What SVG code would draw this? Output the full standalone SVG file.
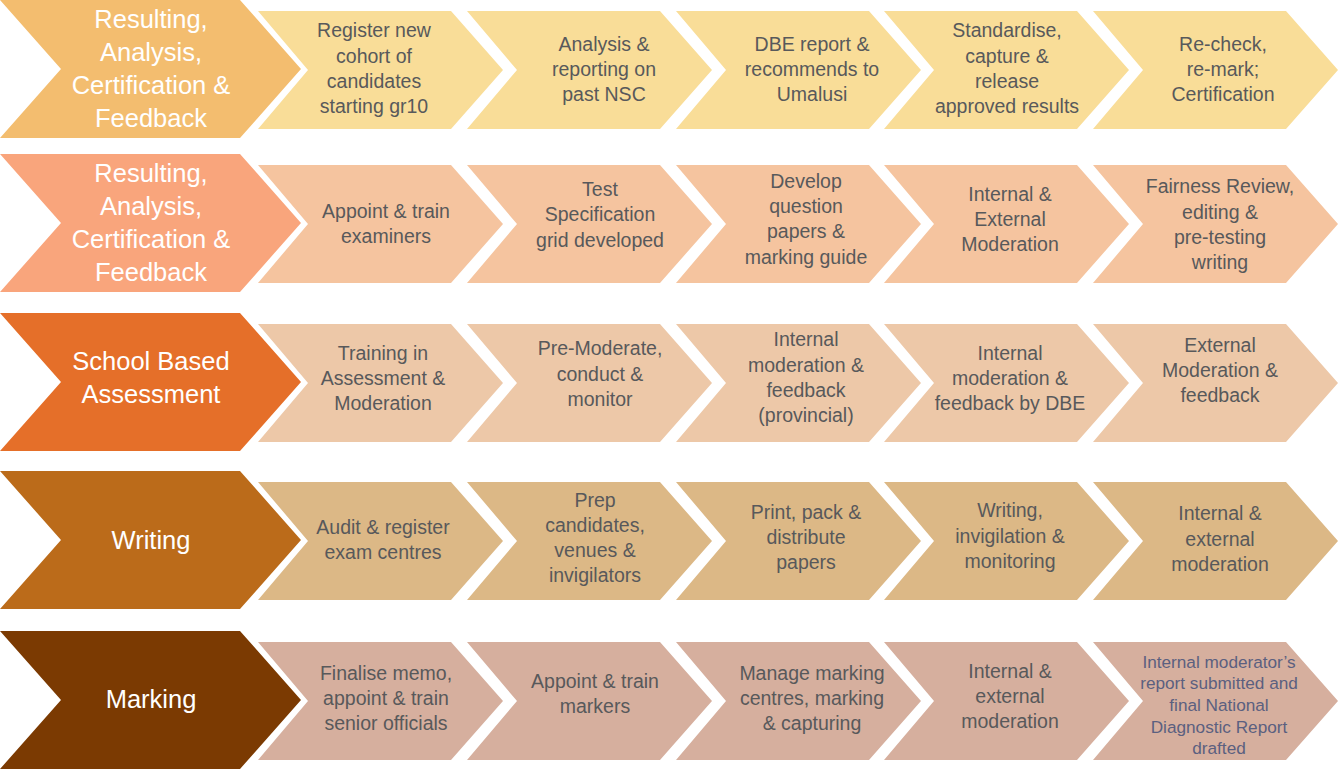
<svg xmlns="http://www.w3.org/2000/svg" width="1339" height="770" viewBox="0 0 1339 770">
  <style>
    .hd { font-family: "Liberation Sans", Arial, sans-serif; font-size: 25.5px; fill: #ffffff; text-anchor: middle; }
    .st { font-family: "Liberation Sans", Arial, sans-serif; font-size: 19.5px; fill: #58595b; text-anchor: middle; }
    .sm { font-family: "Liberation Sans", Arial, sans-serif; font-size: 17.2px; fill: #5b6080; text-anchor: middle; }
    .h1 { fill: #f3bd6f; } .s1 { fill: #f9dd98; }
    .h2 { fill: #f9a57c; } .s2 { fill: #f5c49f; }
    .h3 { fill: #e56f29; } .s3 { fill: #edc8a8; }
    .h4 { fill: #bb6b1a; } .s4 { fill: #dcb886; }
    .h5 { fill: #7b3a02; } .s5 { fill: #d6af9e; }
  </style>
  <defs>
    <!-- header chevron, 139 tall, origin at top-left -->
    <polygon id="head" points="0,0 240,0 301,69 240,138 0,138 61,69"/>
    <!-- step chevron, 118 tall, origin at top-left -->
    <polygon id="step" points="0,0 193,0 245,59 193,118 0,118 50,59"/>
  </defs>

  <rect width="1339" height="770" fill="#ffffff"/>

  <!-- Row 1 -->
  <g id="row1-head">
    <use href="#head" class="h1" x="0" y="0"/>
    <text class="hd" x="151"><tspan x="151" y="28">Resulting,</tspan><tspan x="151" y="61">Analysis,</tspan><tspan x="151" y="94">Certification &amp;</tspan><tspan x="151" y="127">Feedback</tspan></text>
  </g>
  <g id="row1-step1">
    <use href="#step" class="s1" x="258" y="11"/>
    <text class="st"><tspan x="374" y="37">Register new</tspan><tspan x="374" y="63">cohort of</tspan><tspan x="374" y="88">candidates</tspan><tspan x="374" y="113">starting gr10</tspan></text>
  </g>
  <g id="row1-step2">
    <use href="#step" class="s1" x="467" y="11"/>
    <text class="st"><tspan x="604" y="51">Analysis &amp;</tspan><tspan x="604" y="76">reporting on</tspan><tspan x="604" y="101">past NSC</tspan></text>
  </g>
  <g id="row1-step3">
    <use href="#step" class="s1" x="676" y="11"/>
    <text class="st"><tspan x="812" y="51">DBE report &amp;</tspan><tspan x="812" y="76">recommends to</tspan><tspan x="812" y="101">Umalusi</tspan></text>
  </g>
  <g id="row1-step4">
    <use href="#step" class="s1" x="884" y="11"/>
    <text class="st"><tspan x="1007" y="37">Standardise,</tspan><tspan x="1007" y="63">capture &amp;</tspan><tspan x="1007" y="88">release</tspan><tspan x="1007" y="113">approved results</tspan></text>
  </g>
  <g id="row1-step5">
    <use href="#step" class="s1" x="1093" y="11"/>
    <text class="st"><tspan x="1223" y="51">Re-check,</tspan><tspan x="1223" y="76">re-mark;</tspan><tspan x="1223" y="101">Certification</tspan></text>
  </g>

  <!-- Row 2 -->
  <g id="row2-head">
    <use href="#head" class="h2" x="0" y="154"/>
    <text class="hd"><tspan x="151" y="182">Resulting,</tspan><tspan x="151" y="215">Analysis,</tspan><tspan x="151" y="248">Certification &amp;</tspan><tspan x="151" y="281">Feedback</tspan></text>
  </g>
  <g id="row2-step1">
    <use href="#step" class="s2" x="258" y="165"/>
    <text class="st"><tspan x="386" y="218">Appoint &amp; train</tspan><tspan x="386" y="243">examiners</tspan></text>
  </g>
  <g id="row2-step2">
    <use href="#step" class="s2" x="467" y="165"/>
    <text class="st"><tspan x="600" y="196">Test</tspan><tspan x="600" y="221">Specification</tspan><tspan x="600" y="247">grid developed</tspan></text>
  </g>
  <g id="row2-step3">
    <use href="#step" class="s2" x="676" y="165"/>
    <text class="st"><tspan x="806" y="188">Develop</tspan><tspan x="806" y="213">question</tspan><tspan x="806" y="238">papers &amp;</tspan><tspan x="806" y="264">marking guide</tspan></text>
  </g>
  <g id="row2-step4">
    <use href="#step" class="s2" x="884" y="165"/>
    <text class="st"><tspan x="1010" y="201">Internal &amp;</tspan><tspan x="1010" y="226">External</tspan><tspan x="1010" y="251">Moderation</tspan></text>
  </g>
  <g id="row2-step5">
    <use href="#step" class="s2" x="1093" y="165"/>
    <text class="st"><tspan x="1220" y="193">Fairness Review,</tspan><tspan x="1220" y="219">editing &amp;</tspan><tspan x="1220" y="244">pre-testing</tspan><tspan x="1220" y="269">writing</tspan></text>
  </g>

  <!-- Row 3 -->
  <g id="row3-head">
    <use href="#head" class="h3" x="0" y="313"/>
    <text class="hd"><tspan x="151" y="370">School Based</tspan><tspan x="151" y="403">Assessment</tspan></text>
  </g>
  <g id="row3-step1">
    <use href="#step" class="s3" x="258" y="324"/>
    <text class="st"><tspan x="383" y="360">Training in</tspan><tspan x="383" y="385">Assessment &amp;</tspan><tspan x="383" y="410">Moderation</tspan></text>
  </g>
  <g id="row3-step2">
    <use href="#step" class="s3" x="467" y="324"/>
    <text class="st"><tspan x="600" y="355">Pre-Moderate,</tspan><tspan x="600" y="381">conduct &amp;</tspan><tspan x="600" y="406">monitor</tspan></text>
  </g>
  <g id="row3-step3">
    <use href="#step" class="s3" x="676" y="324"/>
    <text class="st"><tspan x="806" y="346">Internal</tspan><tspan x="806" y="372">moderation &amp;</tspan><tspan x="806" y="397">feedback</tspan><tspan x="806" y="422">(provincial)</tspan></text>
  </g>
  <g id="row3-step4">
    <use href="#step" class="s3" x="884" y="324"/>
    <text class="st"><tspan x="1010" y="360">Internal</tspan><tspan x="1010" y="385">moderation &amp;</tspan><tspan x="1010" y="410">feedback by DBE</tspan></text>
  </g>
  <g id="row3-step5">
    <use href="#step" class="s3" x="1093" y="324"/>
    <text class="st"><tspan x="1220" y="352">External</tspan><tspan x="1220" y="377">Moderation &amp;</tspan><tspan x="1220" y="402">feedback</tspan></text>
  </g>

  <!-- Row 4 -->
  <g id="row4-head">
    <use href="#head" class="h4" x="0" y="471"/>
    <text class="hd" x="151" y="549">Writing</text>
  </g>
  <g id="row4-step1">
    <use href="#step" class="s4" x="258" y="482"/>
    <text class="st"><tspan x="383" y="534">Audit &amp; register</tspan><tspan x="383" y="559">exam centres</tspan></text>
  </g>
  <g id="row4-step2">
    <use href="#step" class="s4" x="467" y="482"/>
    <text class="st"><tspan x="595" y="507">Prep</tspan><tspan x="595" y="532">candidates,</tspan><tspan x="595" y="557">venues &amp;</tspan><tspan x="595" y="582">invigilators</tspan></text>
  </g>
  <g id="row4-step3">
    <use href="#step" class="s4" x="676" y="482"/>
    <text class="st"><tspan x="806" y="519">Print, pack &amp;</tspan><tspan x="806" y="544">distribute</tspan><tspan x="806" y="569">papers</tspan></text>
  </g>
  <g id="row4-step4">
    <use href="#step" class="s4" x="884" y="482"/>
    <text class="st"><tspan x="1010" y="517">Writing,</tspan><tspan x="1010" y="543">invigilation &amp;</tspan><tspan x="1010" y="568">monitoring</tspan></text>
  </g>
  <g id="row4-step5">
    <use href="#step" class="s4" x="1093" y="482"/>
    <text class="st"><tspan x="1220" y="520">Internal &amp;</tspan><tspan x="1220" y="546">external</tspan><tspan x="1220" y="571">moderation</tspan></text>
  </g>

  <!-- Row 5 -->
  <g id="row5-head">
    <use href="#head" class="h5" x="0" y="631"/>
    <text class="hd" x="151" y="708">Marking</text>
  </g>
  <g id="row5-step1">
    <use href="#step" class="s5" x="258" y="642"/>
    <text class="st"><tspan x="386" y="680">Finalise memo,</tspan><tspan x="386" y="705">appoint &amp; train</tspan><tspan x="386" y="730">senior officials</tspan></text>
  </g>
  <g id="row5-step2">
    <use href="#step" class="s5" x="467" y="642"/>
    <text class="st"><tspan x="595" y="688">Appoint &amp; train</tspan><tspan x="595" y="713">markers</tspan></text>
  </g>
  <g id="row5-step3">
    <use href="#step" class="s5" x="676" y="642"/>
    <text class="st"><tspan x="812" y="680">Manage marking</tspan><tspan x="812" y="705">centres, marking</tspan><tspan x="812" y="730">&amp; capturing</tspan></text>
  </g>
  <g id="row5-step4">
    <use href="#step" class="s5" x="884" y="642"/>
    <text class="st"><tspan x="1010" y="678">Internal &amp;</tspan><tspan x="1010" y="703">external</tspan><tspan x="1010" y="728">moderation</tspan></text>
  </g>
  <g id="row5-step5">
    <use href="#step" class="s5" x="1093" y="642"/>
    <text class="sm"><tspan x="1219" y="668">Internal moderator’s</tspan><tspan x="1219" y="689">report submitted and</tspan><tspan x="1219" y="711">final National</tspan><tspan x="1219" y="733">Diagnostic Report</tspan><tspan x="1219" y="754">drafted</tspan></text>
  </g>
</svg>
